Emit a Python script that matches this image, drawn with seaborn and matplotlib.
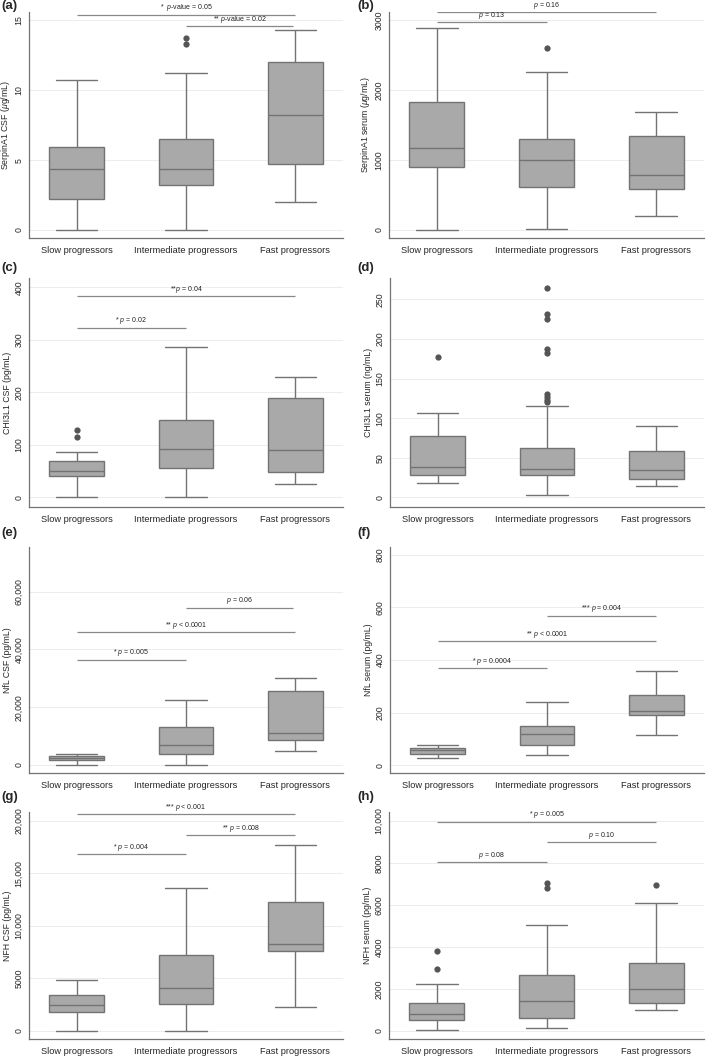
import numpy as np
import pandas as pd
import seaborn as sns
import matplotlib.pyplot as plt

# groups on the x axis
groups = ["Slow progressors", "Intermediate progressors", "Fast progressors"]

# five number summaries per group: [min, q1, median, q3, max]
serpin_csf = [[0, 2.24, 4.4, 5.95, 10.7], [0, 3.19, 4.4, 6.5, 11.24], [2.0, 4.69, 8.26, 12.0, 14.29]]
serpin_csf_out = [[], [13.33, 13.74], []]

serpin_serum = [[0, 905, 1176, 1833, 2881], [10, 619, 995, 1300, 2262], [205, 586, 790, 1343, 1690]]
serpin_serum_out = [[], [2595], []]

chi_csf = [[0, 41, 51, 69, 86], [0, 56, 93, 147, 287], [25, 48, 91, 189, 229]]
chi_csf_out = [[114, 128], [], []]

chi_serum = [[18.5, 28, 39, 77, 106], [3.4, 29, 36, 62, 115], [15, 23.6, 34.5, 59, 90]]
chi_serum_out = [[177], [120, 123, 127, 131, 182, 187, 225, 231, 265], []]

nfl_csf = [[0, 1850, 2540, 3100, 3700], [0, 3920, 6920, 13040, 22500], [4960, 8770, 10960, 25600, 30000]]
nfl_csf_out = [[], [], []]

nfl_serum = [[28, 43, 56, 66, 76], [38, 76, 117, 150, 239], [113, 192, 207, 265, 358]]
nfl_serum_out = [[], [], []]

nfh_csf = [[0, 1840, 2510, 3400, 4890], [0, 2570, 4130, 7270, 13620], [2290, 7620, 8320, 12290, 17680]]
nfh_csf_out = [[], [], []]

nfh_serum = [[48, 540, 794, 1320, 2240], [160, 620, 1440, 2680, 5060], [1000, 1350, 1980, 3250, 6080]]
nfh_serum_out = [[2940, 3810], [6790, 7030], [6950]]

# significance brackets: (from group, to group, height, label)
serpin_csf_sig = [(0, 2, 15.4, r"*  $\it{p}$-value = 0.05"), (1, 1.98, 14.6, r"** $\it{p}$-value = 0.02")]
serpin_serum_sig = [(0, 2, 3110, r"$\it{p}$ = 0.16"), (0, 1, 2967, r"$\it{p}$ = 0.13")]
chi_csf_sig = [(0, 2, 383, r"**$\it{p}$ = 0.04"), (0, 1, 323, r"* $\it{p}$ = 0.02")]
chi_serum_sig = []
nfl_csf_sig = [(1, 1.98, 54460, r"$\it{p}$ = 0.06"), (0, 2, 45920, r"** $\it{p}$ < 0.0001"),
               (0, 1, 36460, r"* $\it{p}$ = 0.005")]
nfl_serum_sig = [(1, 2, 568, r"*** $\it{p}$ = 0.004"), (0, 2, 472, r"** $\it{p}$ < 0.0001"),
                 (0, 1, 368, r"* $\it{p}$ = 0.0004")]
nfh_csf_sig = [(0, 2, 20630, r"*** $\it{p}$ < 0.001"), (1, 2, 18670, r"** $\it{p}$ = 0.008"),
               (0, 1, 16830, r"* $\it{p}$ = 0.004")]
nfh_serum_sig = [(0, 2, 9970, r"* $\it{p}$ = 0.005"), (1, 2, 8980, r"$\it{p}$ = 0.10"),
                 (0, 1, 8050, r"$\it{p}$ = 0.08")]

sns.set_style("white")
plt.rcParams["font.family"] = ["Liberation Sans", "DejaVu Sans"]
plt.rcParams["mathtext.fontset"] = "custom"
plt.rcParams["mathtext.it"] = "Liberation Sans:italic"
plt.rcParams["mathtext.rm"] = "Liberation Sans"

box_fill = "#a9a9a9"
line_col = "#737373"
dot_col = "#555555"

W, H = 709, 1056
fig = plt.figure(figsize=(W / 100, H / 100), dpi=100)


def make_ax(left, right, top, bottom):
    return fig.add_axes([left / W, (H - bottom) / H, (right - left) / W, (bottom - top) / H])


def draw_panel(ax, summary, outliers, ylim, yticks, yticklabels, ylabel, sig, letter, lx, ly):
    df = pd.DataFrame({"group": np.repeat(groups, 5), "value": np.concatenate(summary)})
    sns.boxplot(data=df, x="group", y="value", order=groups, whis=(0, 100), width=0.5,
                color=box_fill, linecolor=line_col, linewidth=1, saturation=1,
                showfliers=False, capwidths=0.38, ax=ax)

    out_g = [g for g, vals in zip(groups, outliers) for v in vals]
    out_v = [v for vals in outliers for v in vals]
    if out_v:
        dfo = pd.DataFrame({"group": out_g, "value": out_v})
        sns.stripplot(data=dfo, x="group", y="value", order=groups, jitter=False,
                      color=dot_col, size=4.5, ax=ax, zorder=5)

    for x0, x1, y, lab in sig:
        ax.plot([x0, x1], [y, y], color="#888888", lw=0.9, solid_capstyle="butt")
        ax.annotate(lab, xy=((x0 + x1) / 2, y), xytext=(0, 1), textcoords="offset points",
                    ha="center", va="bottom", fontsize=5, color="#222222")

    ax.set_xlim(-0.435, 2.435)
    ax.set_ylim(*ylim)
    ax.set_yticks(yticks)
    ax.set_yticklabels(yticklabels, rotation=90, va="center", fontsize=6.3)
    ax.tick_params(axis="x", labelsize=6.7, length=3, color=line_col, pad=2.5)
    ax.tick_params(axis="y", length=2.5, color=line_col, pad=1.5)
    ax.set_xlabel("")
    ax.set_ylabel(ylabel, fontsize=6.3, labelpad=1.5)
    ax.yaxis.grid(True, color="#ececec", lw=0.7)
    ax.set_axisbelow(True)
    sns.despine(ax=ax)
    for s in ["left", "bottom"]:
        ax.spines[s].set_color(line_col)
        ax.spines[s].set_linewidth(0.9)
    fig.text(lx / W, 1 - ly / H, letter, fontsize=9.5, fontweight="bold", va="top", ha="left")


ax = make_ax(29, 343, 12, 238)
draw_panel(ax, serpin_csf, serpin_csf_out, (-0.57, 15.6), [0, 5, 10, 15], ["0", "5", "10", "15"],
           r"SerpinA1 CSF ($\it{\mu}$g/mL)", serpin_csf_sig, "(a)", 1, 0)

ax = make_ax(389, 704, 12, 238)
draw_panel(ax, serpin_serum, serpin_serum_out, (-114, 3114), [0, 1000, 2000, 3000],
           ["0", "1000", "2000", "3000"], r"SerpinA1 serum ($\it{\mu}$g/mL)", serpin_serum_sig,
           "(b)", 357, 0)

ax = make_ax(29, 343, 278, 507)
draw_panel(ax, chi_csf, chi_csf_out, (-18.5, 418), [0, 100, 200, 300, 400],
           ["0", "100", "200", "300", "400"], "CHI3L1 CSF (pg/mL)", chi_csf_sig, "(c)", 1, 262)

ax = make_ax(390, 704, 278, 507)
draw_panel(ax, chi_serum, chi_serum_out, (-12, 277), [0, 50, 100, 150, 200, 250],
           ["0", "50", "100", "150", "200", "250"], "CHI3L1 serum (ng/mL)", chi_serum_sig,
           "(d)", 357, 262)

ax = make_ax(29, 343, 547, 773)
draw_panel(ax, nfl_csf, nfl_csf_out, (-2770, 75470), [0, 20000, 40000, 60000],
           ["0", "20,000", "40,000", "60,000"], "NfL CSF (pg/mL)", nfl_csf_sig, "(e)", 1, 527)

ax = make_ax(390, 704, 547, 773)
draw_panel(ax, nfl_serum, nfl_serum_out, (-30, 830), [0, 200, 400, 600, 800],
           ["0", "200", "400", "600", "800"], "NfL serum (pg/mL)", nfl_serum_sig, "(f)", 357, 527)

ax = make_ax(29, 343, 812, 1039)
draw_panel(ax, nfh_csf, nfh_csf_out, (-762, 20857), [0, 5000, 10000, 15000, 20000],
           ["0", "5000", "10,000", "15,000", "20,000"], "NFH CSF (pg/mL)", nfh_csf_sig,
           "(g)", 1, 791)

ax = make_ax(389, 704, 812, 1039)
draw_panel(ax, nfh_serum, nfh_serum_out, (-381, 10430), [0, 2000, 4000, 6000, 8000, 10000],
           ["0", "2000", "4000", "6000", "8000", "10,000"], "NFH serum (pg/mL)", nfh_serum_sig,
           "(h)", 357, 791)

fig.savefig("out.png", dpi=100)
